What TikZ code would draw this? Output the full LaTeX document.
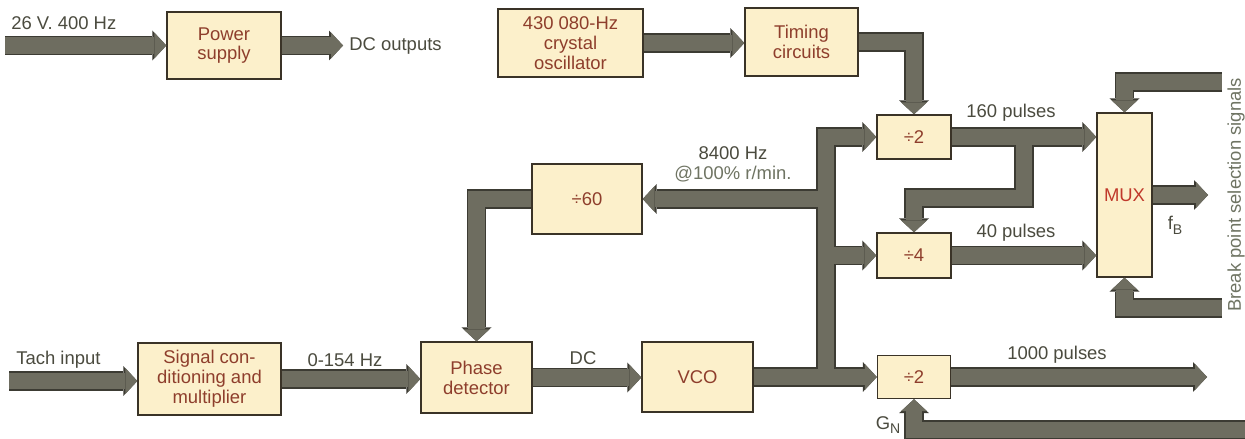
\documentclass[tikz,border=0pt]{standalone}
\usepackage{fontspec}
\setmainfont{Liberation Sans}
\usepackage{tikz}
\usetikzlibrary{calc,arrows.meta,positioning}
\definecolor{busc}{HTML}{6E6D60}
\definecolor{busedge}{HTML}{3C3B33}
\definecolor{boxfill}{HTML}{FCF0CB}
\definecolor{boxline}{HTML}{3A3327}
\definecolor{boxtext}{HTML}{8E3E2C}
\definecolor{muxred}{HTML}{C0392B}
\definecolor{lblc}{HTML}{4B4B3F}
\definecolor{softlbl}{HTML}{6F7463}
\tikzset{
  blk/.style={draw=boxline,line width=0.8pt,fill=boxfill,text=boxtext,align=center,inner sep=0pt,font=\fontsize{10.5}{11.3}\selectfont},
  lbl/.style={text=lblc,inner sep=0pt,font=\fontsize{10.5}{11.5}\selectfont},
  edgepass/.style={bar/.style={line width=0.39cm,draw=busedge,-{Triangle[length=0.28cm,width=0.6cm,line width=0pt]}}},
  fillpass/.style={bar/.style={line width=0.33cm,draw=busc,-{Triangle[length=0.24cm,width=0.52cm,line width=0pt]}}}
}
\newcommand{\busnet}{
  \draw[bar] (in26) -- (power.west);
  \draw[bar] (power.east) -- (dcout);
  \draw[bar] (osc.east) -- (osc.east -| timing.west);
  \draw[bar] (timing.east) -| (d2a.north);
  \draw[bar] (tach) -- (tach -| sig.west);
  \draw[bar] (sig.east) -- (sig.east -| phase.west);
  \draw[bar] (div60.west) -| (phase.north);
  \draw[bar] (phase.east) -- (phase.east -| vco.west);
  \draw[bar] (vco.east) -- (vco.east -| d2b.west);
  \draw[bar] (tapv) |- (d2a.west);
  \draw[bar] (tapv |- div60.east) -- (div60.east);
  \draw[bar] (tapv |- d4.west) -- (d4.west);
  \draw[bar] (d2a.east) -- (d2a.east -| mux.west);
  \draw[bar] (tap160) -- ++(0,61) -| (d4.north);
  \draw[bar] (d4.east) -- (d4.east -| mux.west);
  \draw[bar] (mux.east) -- (fbout);
  \draw[bar] (selA) -| (mux.north);
  \draw[bar] (selB) -| (mux.south);
  \draw[bar] (d2b.east) -- (out1000);
  \draw[bar] (gnin) -| (d2b.south);
}

\begin{document}
\begin{tikzpicture}[x=0.02cm,y=-0.02cm]
\useasboundingbox (0,0) rectangle (1245,439);
\fill[white] (0,0) rectangle (1245,439);
% blocks
\node[blk,minimum width=2.28cm,minimum height=1.34cm] (power) at (224,45.5) {Power\\supply};
\node[blk,minimum width=2.9cm,minimum height=1.36cm] (osc) at (570.5,43) {430 080-Hz\\crystal\\oscillator};
\node[blk,minimum width=2.26cm,minimum height=1.36cm] (timing) at (801.5,42) {Timing\\circuits};
\node[blk,minimum width=2.2cm,minimum height=1.4cm] (div60) at (587,199) {÷60};
\node[blk,minimum width=1.48cm,minimum height=0.88cm] (d2a) at (914,137) {÷2};
\node[blk,minimum width=1.48cm,minimum height=0.9cm] (d4) at (914,255.5) {÷4};
\node[blk,minimum width=1.46cm,minimum height=0.86cm] (d2b) at (914,377) {÷2};
\node[blk,minimum width=1.1cm,minimum height=3.28cm,text=muxred] (mux) at (1124.5,195) {MUX};
\node[blk,minimum width=2.86cm,minimum height=1.44cm] (sig) at (209.5,379) {Signal con-\\ditioning and\\multiplier};
\node[blk,minimum width=2.22cm,minimum height=1.42cm] (phase) at (476.5,377.5) {Phase\\detector};
\node[blk,minimum width=2.22cm,minimum height=1.4cm] (vco) at (697.5,377) {VCO};
% free ends and taps
\coordinate (in26) at (5,45.5);
\coordinate (dcout) at (343,45.5);
\coordinate (tach) at (9,381);
\coordinate (tapv) at (826,377);
\coordinate (tap160) at ($(d2a.east)!0.5!(d2a.east -| mux.west)$);
\coordinate (fbout) at (1208,195);
\coordinate (selA) at (1222,82);
\coordinate (selB) at (1222,308);
\coordinate (out1000) at (1207,377);
\coordinate (gnin) at (1245,430);
% buses: outline first, then fill
\begin{scope}[edgepass] \busnet \end{scope}
\begin{scope}[fillpass] \busnet \end{scope}
% labels
\node[lbl,anchor=west] (l26) at (11,23) {26 V. 400 Hz};
\node[lbl,anchor=west] (ldc) at (349,46) {DC outputs};
\node[lbl,align=center] (l8400) at (733,164) {8400 Hz\\\color{softlbl}@100\% r/min.};
\node[lbl] (l160) at (1011,113) {160 pulses};
\node[lbl] (l40) at (1016,233) {40 pulses};
\node[lbl] (l1000) at (1057,355) {1000 pulses};
\node[lbl] (lfb) at (1175,225) {f\raisebox{-0.5ex}{\footnotesize B}};
\node[lbl,rotate=90,text=softlbl] (lbrk) at (1236,195) {Break point selection signals};
\node[lbl,anchor=west] (ltach) at (16,360) {Tach input};
\node[lbl] (l0154) at (345,360) {0-154 Hz};
\node[lbl] (ldcv) at (583,358) {DC};
\node[lbl] (lgn) at (888,425) {G\raisebox{-0.5ex}{\footnotesize N}};
\end{tikzpicture}
\end{document}
